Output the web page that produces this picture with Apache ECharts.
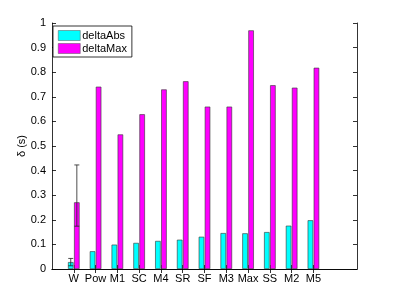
<!DOCTYPE html>
<html><head><meta charset="utf-8">
<script src="https://cdn.jsdelivr.net/npm/echarts@6/dist/echarts.min.js"></script>
<style>html,body{margin:0;padding:0;background:#fff}#c{width:395px;height:303px}</style>
</head><body><div id="c"></div>
<script>
var categories = ['W','Pow','M1','SC','M4','SR','SF','M3','Max','SS','M2','M5'];
var deltaAbs = [0.028,0.072,0.099,0.106,0.114,0.119,0.131,0.146,0.145,0.150,0.176,0.198];
var deltaMax = [0.271,0.741,0.547,0.629,0.730,0.763,0.660,0.660,0.970,0.747,0.737,0.818];
// error bars: [category, low, high]
var errAbs = [['W',0.013,0.043]];
var errMax = [['W',0.174,0.423]];
var yTicks = [0,0.1,0.2,0.3,0.4,0.5,0.6,0.7,0.8,0.9,1];

var axisCats = [''].concat(categories, ['', '']);
var FONT = 'Liberation Sans';
function errSeries(data, off) {
  return {
    type: 'custom', xAxisIndex: 0, yAxisIndex: 0, z: 5,
    data: data,
    renderItem: function (params, api) {
      var c = api.value(0), lo = api.value(1), hi = api.value(2);
      var p1 = api.coord([c, lo]), p2 = api.coord([c, hi]);
      var x = p1[0] + off, w = 2.5;
      var st = {stroke: '#222', lineWidth: 0.8};
      return {type: 'group', children: [
        {type: 'line', shape: {x1: x, y1: p1[1], x2: x, y2: p2[1]}, style: st},
        {type: 'line', shape: {x1: x - w, y1: p1[1], x2: x + w, y2: p1[1]}, style: st},
        {type: 'line', shape: {x1: x - w, y1: p2[1], x2: x + w, y2: p2[1]}, style: st}
      ]};
    }
  };
}
var chart = echarts.init(document.getElementById('c'), null, {renderer: 'canvas'});
var tickFn = function (i) { return i >= 1 && i <= categories.length; };
chart.setOption({
  animation: false,
  textStyle: {fontFamily: FONT},
  grid: {left: 52, right: 38, top: 23, bottom: 34, show: false},
  legend: {
    left: 53, top: 26, orient: 'vertical', itemWidth: 22, itemHeight: 10, itemGap: 2,
    padding: [4, 5, 3, 5], borderColor: '#000', borderWidth: 0.8, backgroundColor: '#fff',
    itemStyle: {borderWidth: 0.5, borderColor: '#555'},
    textStyle: {fontFamily: FONT, fontSize: 11, color: '#000', padding: [0, 0, 0, -3]},
    data: [{name: 'deltaAbs', icon: 'rect'}, {name: 'deltaMax', icon: 'rect'}]
  },
  xAxis: [{
    type: 'category', data: axisCats, boundaryGap: false, position: 'bottom',
    axisLine: {lineStyle: {color: '#000', width: 0.8}},
    axisTick: {inside: true, length: 4, interval: tickFn, lineStyle: {color: '#000', width: 0.8}},
    axisLabel: {interval: tickFn, color: '#000', fontSize: 11, margin: 4, fontFamily: FONT},
    splitLine: {show: false}
  }, {
    type: 'category', data: axisCats, boundaryGap: false, position: 'top',
    axisLine: {lineStyle: {color: '#000', width: 0.8}},
    axisTick: {inside: true, length: 4, interval: tickFn, lineStyle: {color: '#000', width: 0.8}},
    axisLabel: {show: false}, splitLine: {show: false}
  }],
  yAxis: [{
    type: 'value', min: 0, max: 1, interval: 0.1,
    name: 'δ (s)', nameLocation: 'middle', nameGap: 25, nameRotate: 90, nameMoveOverlap: false,
    nameTextStyle: {color: '#000', fontSize: 11, fontFamily: FONT},
    axisLine: {show: true, lineStyle: {color: '#000', width: 0.8}},
    axisTick: {show: true, inside: true, length: 4, lineStyle: {color: '#000', width: 0.8}},
    axisLabel: {color: '#000', fontSize: 11, margin: 6, fontFamily: FONT,
      formatter: function (v) { return String(Math.round(v * 10) / 10); }},
    splitLine: {show: false}
  }, {
    type: 'value', min: 0, max: 1, interval: 0.1, position: 'right',
    axisLine: {show: true, lineStyle: {color: '#000', width: 0.8}},
    axisTick: {show: true, inside: true, length: 4, lineStyle: {color: '#000', width: 0.8}},
    axisLabel: {show: false}, splitLine: {show: false}
  }],
  series: [
    {name: 'deltaAbs', type: 'bar', barWidth: 5.5, barGap: '10%',
     itemStyle: {color: '#00ffff', borderColor: '#333', borderWidth: 0.6},
     data: categories.map(function (c, i) { return [c, deltaAbs[i]]; })},
    {name: 'deltaMax', type: 'bar', barWidth: 5.5, barGap: '10%',
     itemStyle: {color: '#ff00ff', borderColor: '#333', borderWidth: 0.6},
     data: categories.map(function (c, i) { return [c, deltaMax[i]]; })},
    errSeries(errAbs, -3.05),
    errSeries(errMax, 3.05)
  ]
});
</script></body></html>
